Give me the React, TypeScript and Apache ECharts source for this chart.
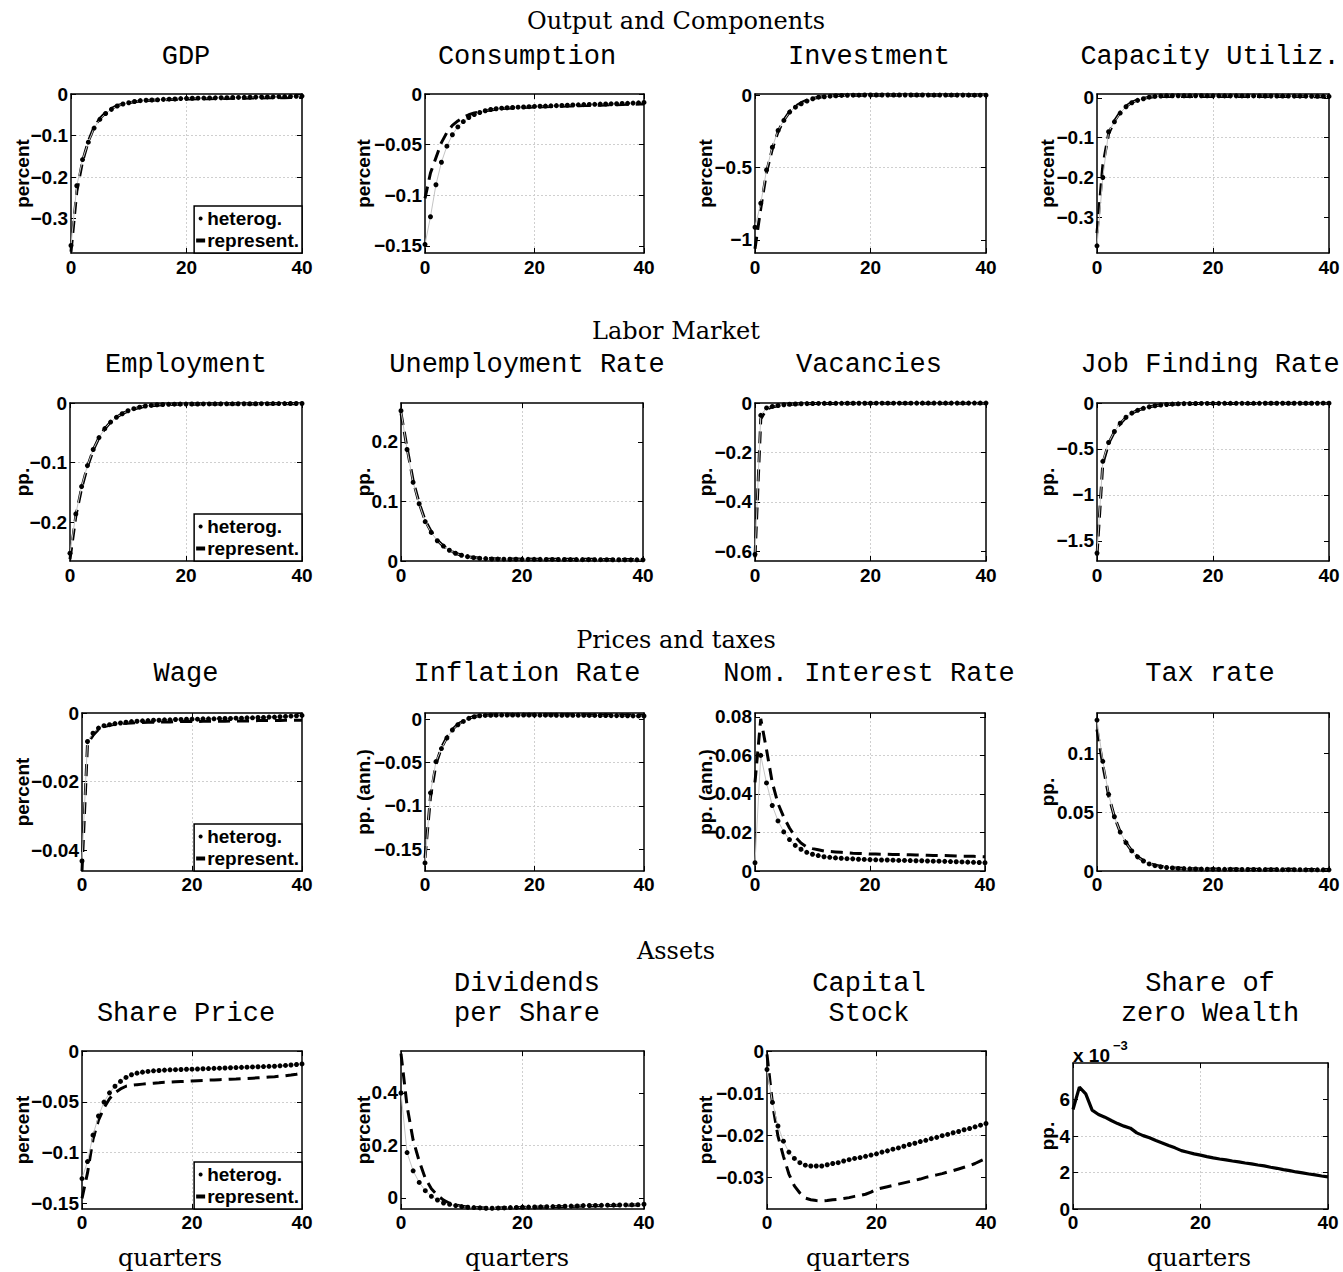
import React, { useEffect, useRef } from 'react';
import * as echarts from 'echarts';

const W = 1343;
const H = 1272;

const QUARTERS = Array.from({ length: 41 }, (_, i) => i);
const X_TICKS = [0, 20, 40];

// ---------- Output and Components ----------
const gdpHet = [-0.365, -0.221, -0.158, -0.116, -0.082, -0.061, -0.047, -0.037, -0.029, -0.024, -0.021, -0.018, -0.016, -0.015, -0.0145, -0.014, -0.013, -0.0125, -0.012, -0.011, -0.0105, -0.0103, -0.01, -0.0098, -0.0095, -0.0093, -0.009, -0.0088, -0.0085, -0.0083, -0.008, -0.0078, -0.0075, -0.0072, -0.007, -0.0068, -0.0065, -0.0062, -0.006, -0.0055, -0.005];
const gdpRep = [-0.38, -0.235, -0.162, -0.114, -0.08, -0.059, -0.045, -0.035, -0.028, -0.024, -0.021, -0.019, -0.017, -0.016, -0.015, -0.0145, -0.014, -0.0135, -0.013, -0.0125, -0.012, -0.0118, -0.0116, -0.0114, -0.0112, -0.011, -0.0108, -0.0106, -0.0104, -0.0102, -0.01, -0.0098, -0.0097, -0.0095, -0.0093, -0.0091, -0.009, -0.0088, -0.0086, -0.0084, -0.0082];
const consHet = [-0.1485, -0.1212, -0.0896, -0.0674, -0.0515, -0.0402, -0.0325, -0.0272, -0.0232, -0.0203, -0.0183, -0.0165, -0.0153, -0.0146, -0.014, -0.0136, -0.0133, -0.013, -0.0128, -0.0125, -0.0123, -0.0121, -0.0119, -0.0117, -0.0115, -0.0113, -0.0111, -0.0109, -0.0107, -0.0105, -0.0103, -0.0102, -0.01, -0.0099, -0.0097, -0.0096, -0.0094, -0.0092, -0.009, -0.0087, -0.0083];
const consRep = [-0.103, -0.078, -0.063, -0.048, -0.038, -0.031, -0.0266, -0.023, -0.0205, -0.0188, -0.0175, -0.0165, -0.0157, -0.015, -0.0145, -0.0141, -0.0138, -0.0135, -0.0133, -0.0131, -0.0129, -0.0127, -0.0125, -0.0124, -0.0122, -0.012, -0.0119, -0.0117, -0.0116, -0.0114, -0.0113, -0.0111, -0.011, -0.0108, -0.0107, -0.0105, -0.0104, -0.0102, -0.0101, -0.0099, -0.0098];
const invHet = [-0.912, -0.746, -0.515, -0.358, -0.242, -0.173, -0.115, -0.081, -0.058, -0.039, -0.023, -0.012, -0.009, -0.005, -0.002, 0.0, 0.001, 0.002, 0.002, 0.003, 0.003, 0.003, 0.003, 0.003, 0.003, 0.003, 0.003, 0.003, 0.003, 0.003, 0.0028, 0.0027, 0.0026, 0.0025, 0.0024, 0.0023, 0.0022, 0.0021, 0.002, 0.002, 0.0019];
const invRep = [-1.06, -0.78, -0.53, -0.37, -0.25, -0.17, -0.112, -0.075, -0.05, -0.033, -0.021, -0.013, -0.007, -0.003, -0.001, 0.0, 0.001, 0.0015, 0.002, 0.002, 0.002, 0.002, 0.002, 0.002, 0.002, 0.002, 0.002, 0.002, 0.002, 0.0019, 0.0019, 0.0018, 0.0018, 0.0017, 0.0017, 0.0016, 0.0016, 0.0016, 0.0015, 0.0015, 0.0015];
const capHet = [-0.372, -0.2, -0.085, -0.06, -0.038, -0.022, -0.012, -0.006, -0.002, 0.002, 0.004, 0.005, 0.0055, 0.0055, 0.0055, 0.0055, 0.0055, 0.0055, 0.0055, 0.0054, 0.0054, 0.0054, 0.0053, 0.0053, 0.0053, 0.0052, 0.0052, 0.0051, 0.0051, 0.005, 0.005, 0.0049, 0.0048, 0.0048, 0.0047, 0.0046, 0.0045, 0.0044, 0.0043, 0.0042, 0.004];
const capRep = [-0.34, -0.17, -0.09, -0.058, -0.036, -0.021, -0.011, -0.005, -0.001, 0.002, 0.003, 0.004, 0.004, 0.004, 0.004, 0.004, 0.004, 0.004, 0.004, 0.004, 0.004, 0.004, 0.004, 0.004, 0.004, 0.004, 0.0039, 0.0039, 0.0038, 0.0038, 0.0037, 0.0037, 0.0036, 0.0036, 0.0035, 0.0034, 0.0034, 0.0033, 0.0032, 0.0031, 0.003];

// ---------- Labor Market ----------
const empHet = [-0.252, -0.186, -0.14, -0.105, -0.078, -0.058, -0.043, -0.032, -0.024, -0.018, -0.013, -0.0095, -0.007, -0.005, -0.004, -0.003, -0.0025, -0.0022, -0.002, -0.0019, -0.0018, -0.0017, -0.0017, -0.0016, -0.0016, -0.0015, -0.0015, -0.0014, -0.0014, -0.0013, -0.0013, -0.0012, -0.0012, -0.0011, -0.0011, -0.001, -0.001, -0.001, -0.0009, -0.0009, -0.0008];
const empRep = [-0.262, -0.19, -0.143, -0.107, -0.079, -0.058, -0.043, -0.032, -0.024, -0.018, -0.0135, -0.01, -0.0075, -0.0057, -0.0045, -0.0036, -0.003, -0.0026, -0.0023, -0.0021, -0.002, -0.0019, -0.0019, -0.0018, -0.0018, -0.0018, -0.0017, -0.0017, -0.0017, -0.0016, -0.0016, -0.0016, -0.0015, -0.0015, -0.0015, -0.0014, -0.0014, -0.0014, -0.0013, -0.0013, -0.0013];
const unHet = [0.252, 0.187, 0.132, 0.096, 0.066, 0.048, 0.034, 0.025, 0.018, 0.013, 0.0096, 0.0073, 0.0056, 0.0045, 0.004, 0.0034, 0.0032, 0.0031, 0.003, 0.0029, 0.0028, 0.0028, 0.0027, 0.0027, 0.0026, 0.0026, 0.0025, 0.0025, 0.0024, 0.0024, 0.0023, 0.0023, 0.0022, 0.0022, 0.0022, 0.0021, 0.0021, 0.0021, 0.002, 0.002, 0.002];
const unRep = [0.248, 0.19, 0.135, 0.097, 0.068, 0.049, 0.035, 0.025, 0.018, 0.013, 0.0097, 0.0075, 0.006, 0.005, 0.0044, 0.004, 0.0037, 0.0035, 0.0034, 0.0033, 0.0032, 0.0032, 0.0031, 0.0031, 0.003, 0.003, 0.003, 0.0029, 0.0029, 0.0029, 0.0028, 0.0028, 0.0028, 0.0027, 0.0027, 0.0027, 0.0026, 0.0026, 0.0026, 0.0025, 0.0025];
const vacHet = [-0.613, -0.05, -0.02, -0.014, -0.01, -0.007, -0.005, -0.004, -0.003, -0.0025, -0.002, -0.0018, -0.0016, -0.0014, -0.0013, -0.0012, -0.0011, -0.001, -0.001, -0.0009, -0.0009, -0.0008, -0.0008, -0.0008, -0.0007, -0.0007, -0.0007, -0.0007, -0.0006, -0.0006, -0.0006, -0.0006, -0.0006, -0.0005, -0.0005, -0.0005, -0.0005, -0.0005, -0.0004, -0.0004, -0.0004];
const vacRep = [-0.625, -0.065, -0.025, -0.016, -0.011, -0.008, -0.006, -0.0045, -0.0035, -0.003, -0.0025, -0.0022, -0.002, -0.0018, -0.0016, -0.0015, -0.0014, -0.0013, -0.0012, -0.0012, -0.0011, -0.0011, -0.0011, -0.001, -0.001, -0.001, -0.001, -0.0009, -0.0009, -0.0009, -0.0009, -0.0008, -0.0008, -0.0008, -0.0008, -0.0007, -0.0007, -0.0007, -0.0007, -0.0006, -0.0006];
const jfHet = [-1.634, -0.635, -0.43, -0.31, -0.22, -0.155, -0.11, -0.08, -0.058, -0.042, -0.03, -0.022, -0.016, -0.012, -0.009, -0.007, -0.006, -0.0055, -0.005, -0.0045, -0.004, -0.004, -0.0038, -0.0037, -0.0036, -0.0035, -0.0034, -0.0033, -0.0032, -0.0031, -0.003, -0.003, -0.0029, -0.0028, -0.0027, -0.0026, -0.0025, -0.0024, -0.0023, -0.0022, -0.002];
const jfRep = [-1.66, -0.66, -0.44, -0.315, -0.225, -0.158, -0.112, -0.081, -0.059, -0.043, -0.031, -0.023, -0.017, -0.013, -0.01, -0.008, -0.007, -0.0063, -0.0058, -0.0054, -0.005, -0.0048, -0.0047, -0.0046, -0.0045, -0.0044, -0.0043, -0.0042, -0.0041, -0.004, -0.0039, -0.0038, -0.0037, -0.0036, -0.0035, -0.0034, -0.0033, -0.0032, -0.0031, -0.003, -0.0029];

// ---------- Prices and taxes ----------
const wageHet = [-0.0431, -0.0083, -0.0059, -0.0044, -0.0037, -0.0034, -0.0031, -0.0029, -0.0027, -0.0025, -0.0024, -0.0023, -0.0022, -0.0021, -0.0021, -0.002, -0.002, -0.0019, -0.0019, -0.0018, -0.0018, -0.0018, -0.0017, -0.0017, -0.0017, -0.0016, -0.0016, -0.0016, -0.0015, -0.0015, -0.0014, -0.0014, -0.0013, -0.0013, -0.0012, -0.0012, -0.0011, -0.001, -0.0009, -0.0008, -0.0007];
const wageRep = [-0.046, -0.009, -0.0065, -0.0048, -0.004, -0.0036, -0.0033, -0.0031, -0.003, -0.0029, -0.0028, -0.0028, -0.0027, -0.0027, -0.0026, -0.0026, -0.0026, -0.0025, -0.0025, -0.0025, -0.0025, -0.0025, -0.0024, -0.0024, -0.0024, -0.0024, -0.0024, -0.0023, -0.0023, -0.0023, -0.0023, -0.0023, -0.0022, -0.0022, -0.0022, -0.0022, -0.0022, -0.0021, -0.0021, -0.0021, -0.0021];
const infHet = [-0.1657, -0.085, -0.049, -0.034, -0.0218, -0.0126, -0.0065, -0.0027, 0.0008, 0.0027, 0.0038, 0.0042, 0.0044, 0.0045, 0.0046, 0.0046, 0.0046, 0.0046, 0.0046, 0.0046, 0.0046, 0.0045, 0.0045, 0.0045, 0.0044, 0.0044, 0.0044, 0.0043, 0.0043, 0.0043, 0.0042, 0.0042, 0.0041, 0.0041, 0.004, 0.004, 0.0039, 0.0038, 0.0037, 0.0036, 0.0035];
const infRep = [-0.16, -0.09, -0.052, -0.033, -0.021, -0.012, -0.006, -0.002, 0.001, 0.003, 0.004, 0.0045, 0.0048, 0.005, 0.005, 0.005, 0.005, 0.005, 0.005, 0.005, 0.005, 0.005, 0.005, 0.005, 0.005, 0.005, 0.0049, 0.0049, 0.0049, 0.0049, 0.0048, 0.0048, 0.0048, 0.0048, 0.0047, 0.0047, 0.0047, 0.0046, 0.0046, 0.0046, 0.0045];
const nomHet = [0.0043, 0.06, 0.0457, 0.034, 0.026, 0.0203, 0.0163, 0.0133, 0.0113, 0.0097, 0.0087, 0.008, 0.0074, 0.0071, 0.0068, 0.0066, 0.0064, 0.0063, 0.0061, 0.006, 0.0059, 0.0058, 0.0057, 0.0057, 0.0056, 0.0055, 0.0055, 0.0054, 0.0053, 0.0053, 0.0052, 0.0051, 0.0051, 0.005, 0.0049, 0.0048, 0.0047, 0.0046, 0.0045, 0.0044, 0.0043];
const nomRep = [0.046, 0.079, 0.063, 0.046, 0.035, 0.028, 0.0223, 0.0177, 0.0145, 0.0125, 0.0116, 0.011, 0.0104, 0.0101, 0.0099, 0.0097, 0.0094, 0.0092, 0.0091, 0.009, 0.0088, 0.0088, 0.0087, 0.0087, 0.0086, 0.0085, 0.0085, 0.0084, 0.0083, 0.0083, 0.0082, 0.0081, 0.0081, 0.008, 0.0079, 0.0078, 0.0077, 0.0077, 0.0076, 0.0075, 0.0074];
const taxHet = [0.128, 0.093, 0.065, 0.046, 0.033, 0.024, 0.017, 0.012, 0.0085, 0.006, 0.0045, 0.0035, 0.003, 0.0026, 0.0022, 0.002, 0.0018, 0.0017, 0.0016, 0.0015, 0.0015, 0.0014, 0.0014, 0.0014, 0.0013, 0.0013, 0.0013, 0.0013, 0.0012, 0.0012, 0.0012, 0.0012, 0.0011, 0.0011, 0.0011, 0.0011, 0.001, 0.001, 0.001, 0.001, 0.001];
const taxRep = [0.12, 0.09, 0.064, 0.046, 0.033, 0.024, 0.017, 0.012, 0.0088, 0.0065, 0.005, 0.004, 0.0033, 0.0028, 0.0025, 0.0022, 0.002, 0.0019, 0.0018, 0.0017, 0.0017, 0.0016, 0.0016, 0.0016, 0.0016, 0.0015, 0.0015, 0.0015, 0.0015, 0.0015, 0.0014, 0.0014, 0.0014, 0.0014, 0.0014, 0.0013, 0.0013, 0.0013, 0.0013, 0.0012, 0.0012];

// ---------- Assets ----------
const spHet = [-0.1256, -0.1088, -0.0828, -0.064, -0.0503, -0.0412, -0.0347, -0.0299, -0.026, -0.0234, -0.0218, -0.0208, -0.0201, -0.0195, -0.0192, -0.0188, -0.0185, -0.0184, -0.0182, -0.018, -0.0179, -0.0177, -0.0175, -0.0173, -0.0171, -0.0169, -0.0167, -0.0165, -0.0163, -0.0161, -0.0159, -0.0157, -0.0155, -0.0153, -0.0151, -0.015, -0.0146, -0.0142, -0.0138, -0.0133, -0.0127];
const spRep = [-0.145, -0.12, -0.087, -0.068, -0.056, -0.047, -0.041, -0.0373, -0.0347, -0.0338, -0.0331, -0.0326, -0.0321, -0.0317, -0.0313, -0.0308, -0.0306, -0.0303, -0.03, -0.0298, -0.0295, -0.0292, -0.029, -0.0287, -0.0285, -0.0282, -0.028, -0.0277, -0.0275, -0.0272, -0.027, -0.0267, -0.0264, -0.0261, -0.0257, -0.0253, -0.0248, -0.0243, -0.0236, -0.0228, -0.0218];
const divHet = [0.4, 0.173, 0.1035, 0.0593, 0.0278, 0.0063, -0.0076, -0.019, -0.024, -0.029, -0.0328, -0.0353, -0.0366, -0.0378, -0.039, -0.039, -0.0385, -0.038, -0.0366, -0.036, -0.0353, -0.0348, -0.0343, -0.0338, -0.0333, -0.0328, -0.0322, -0.0316, -0.031, -0.0302, -0.029, -0.0287, -0.0283, -0.0279, -0.0275, -0.0272, -0.0268, -0.0264, -0.026, -0.0255, -0.024];
const divRep = [0.55, 0.35, 0.22, 0.14, 0.075, 0.035, 0.01, -0.008, -0.02, -0.027, -0.031, -0.034, -0.036, -0.037, -0.038, -0.038, -0.038, -0.0375, -0.037, -0.0365, -0.036, -0.0355, -0.035, -0.0345, -0.034, -0.0335, -0.033, -0.0325, -0.032, -0.0315, -0.031, -0.0305, -0.03, -0.0295, -0.029, -0.0285, -0.028, -0.0275, -0.027, -0.0265, -0.026];
const kHet = [-0.0044, -0.0122, -0.0178, -0.0214, -0.024, -0.0255, -0.0265, -0.0271, -0.0273, -0.0273, -0.0273, -0.027, -0.0267, -0.0265, -0.0261, -0.0258, -0.0255, -0.0253, -0.025, -0.0247, -0.0244, -0.024, -0.0237, -0.0233, -0.023, -0.0226, -0.0222, -0.0219, -0.0215, -0.0212, -0.0208, -0.0205, -0.0201, -0.0198, -0.0194, -0.0191, -0.0187, -0.0184, -0.018, -0.0176, -0.0172];
const kRep = [-0.0008, -0.0125, -0.0202, -0.025, -0.0292, -0.032, -0.0337, -0.0349, -0.0353, -0.0355, -0.0356, -0.0355, -0.0353, -0.0352, -0.035, -0.0348, -0.0345, -0.0343, -0.034, -0.0335, -0.0328, -0.0325, -0.0322, -0.0319, -0.0316, -0.0313, -0.031, -0.0307, -0.0304, -0.03, -0.0297, -0.0294, -0.0291, -0.0287, -0.0284, -0.028, -0.0276, -0.0272, -0.0267, -0.0261, -0.0255];
const zeroWealth = [5.45, 6.68, 6.31, 5.42, 5.18, 5.03, 4.85, 4.68, 4.54, 4.43, 4.17, 4.02, 3.9, 3.75, 3.62, 3.48, 3.35, 3.2, 3.11, 3.02, 2.95, 2.87, 2.8, 2.74, 2.69, 2.63, 2.58, 2.52, 2.47, 2.41, 2.36, 2.29, 2.23, 2.16, 2.1, 2.03, 1.98, 1.92, 1.87, 1.81, 1.76];

// ---------- tick labels ----------
const T_GDP = [-0.3, -0.2, -0.1, 0];
const T_CONS = [-0.15, -0.1, -0.05, 0];
const T_INV = [-1, -0.5, 0];
const T_CAP = [-0.3, -0.2, -0.1, 0];
const T_EMP = [-0.2, -0.1, 0];
const T_UN = [0, 0.1, 0.2];
const T_VAC = [-0.6, -0.4, -0.2, 0];
const T_JF = [-1.5, -1, -0.5, 0];
const T_WAGE = [-0.04, -0.02, 0];
const T_INF = [-0.15, -0.1, -0.05, 0];
const T_NOM = [0, 0.02, 0.04, 0.06, 0.08];
const T_TAX = [0, 0.05, 0.1];
const T_SP = [-0.15, -0.1, -0.05, 0];
const T_DIV = [0, 0.2, 0.4];
const T_K = [-0.03, -0.02, -0.01, 0];
const T_ZW = [0, 2, 4, 6];

const SECTIONS = ['Output and Components', 'Labor Market', 'Prices and taxes', 'Assets'];
const LEG_HET = 'heterog.';
const LEG_REP = 'represent.';

const SANS = '"Liberation Sans", Arial, Helvetica, sans-serif';
const MONO = '"Liberation Mono", "Courier New", monospace';
const SERIF = '"DejaVu Serif", serif';

type Panel = {
  title: string[];
  ylab: string;
  het?: number[];
  rep?: number[];
  solid?: number[];
  yMin: number;
  yMax: number;
  ticks: number[];
  box: [number, number, number, number];
  legend?: boolean;
  row: number;
  col: number;
};

const PANELS: Panel[] = [
  { title: ['GDP'], ylab: 'percent', het: gdpHet, rep: gdpRep, yMin: -0.383, yMax: 0, ticks: T_GDP, box: [71, 94, 302, 253], legend: true, row: 0, col: 0 },
  { title: ['Consumption'], ylab: 'percent', het: consHet, rep: consRep, yMin: -0.157, yMax: 0, ticks: T_CONS, box: [425, 94, 644, 253], row: 0, col: 1 },
  { title: ['Investment'], ylab: 'percent', het: invHet, rep: invRep, yMin: -1.09, yMax: 0.01, ticks: T_INV, box: [755, 94, 986, 253], row: 0, col: 2 },
  { title: ['Capacity Utiliz.'], ylab: 'percent', het: capHet, rep: capRep, yMin: -0.39, yMax: 0.01, ticks: T_CAP, box: [1097, 94, 1329, 253], row: 0, col: 3 },
  { title: ['Employment'], ylab: 'pp.', het: empHet, rep: empRep, yMin: -0.265, yMax: 0, ticks: T_EMP, box: [70, 403, 302, 561], legend: true, row: 1, col: 0 },
  { title: ['Unemployment Rate'], ylab: 'pp.', het: unHet, rep: unRep, yMin: 0, yMax: 0.265, ticks: T_UN, box: [401, 403, 643, 561], row: 1, col: 1 },
  { title: ['Vacancies'], ylab: 'pp.', het: vacHet, rep: vacRep, yMin: -0.64, yMax: 0, ticks: T_VAC, box: [755, 403, 986, 561], row: 1, col: 2 },
  { title: ['Job Finding Rate'], ylab: 'pp.', het: jfHet, rep: jfRep, yMin: -1.72, yMax: 0, ticks: T_JF, box: [1097, 403, 1329, 561], row: 1, col: 3 },
  { title: ['Wage'], ylab: 'percent', het: wageHet, rep: wageRep, yMin: -0.046, yMax: 0, ticks: T_WAGE, box: [82, 713, 302, 871], legend: true, row: 2, col: 0 },
  { title: ['Inflation Rate'], ylab: 'pp. (ann.)', het: infHet, rep: infRep, yMin: -0.175, yMax: 0.007, ticks: T_INF, box: [425, 713, 644, 871], row: 2, col: 1 },
  { title: ['Nom. Interest Rate'], ylab: 'pp. (ann.)', het: nomHet, rep: nomRep, yMin: 0, yMax: 0.082, ticks: T_NOM, box: [755, 713, 985, 871], row: 2, col: 2 },
  { title: ['Tax rate'], ylab: 'pp.', het: taxHet, rep: taxRep, yMin: 0, yMax: 0.134, ticks: T_TAX, box: [1097, 713, 1329, 871], row: 2, col: 3 },
  { title: ['Share Price'], ylab: 'percent', het: spHet, rep: spRep, yMin: -0.1555, yMax: 0, ticks: T_SP, box: [82, 1051, 302, 1209], legend: true, row: 3, col: 0 },
  { title: ['Dividends', 'per Share'], ylab: 'percent', het: divHet, rep: divRep, yMin: -0.042, yMax: 0.56, ticks: T_DIV, box: [401, 1051, 644, 1209], row: 3, col: 1 },
  { title: ['Capital', 'Stock'], ylab: 'percent', het: kHet, rep: kRep, yMin: -0.0375, yMax: 0, ticks: T_K, box: [767, 1051, 986, 1209], row: 3, col: 2 },
  { title: ['Share of', 'zero Wealth'], ylab: 'pp.', solid: zeroWealth, yMin: 0, yMax: 8, ticks: T_ZW, box: [1073, 1063, 1328, 1209], row: 3, col: 3 },
];

const COL_TITLE_X = [186, 527, 869, 1210];
const ROW_TITLE_Y = [57, 365, 674, 1014];
const SECTION_Y = [21, 331, 640, 951];
const YLAB_X = [22, 363, 705, 1047];
const X_LABEL_MARGIN = [5, 5, 4, 4];
const QUARTERS_X = [170, 517, 858, 1199];
const QUARTERS_Y = 1258;

const fmt = (v: number) => String(parseFloat(Number(v).toFixed(6))).replace('-', '\u2212');

const pairs = (arr: number[]) => arr.map((v, i) => [QUARTERS[i], v]);

function txt(x: number, y: number, text: string, font: any, rotation = 0): any {
  return {
    type: 'text',
    x,
    y,
    rotation,
    silent: true,
    style: {
      text,
      fill: '#000',
      align: 'center',
      verticalAlign: 'middle',
      textAlign: 'center',
      textVerticalAlign: 'middle',
      ...font,
    },
  };
}

function buildOption(): any {
  const grid: any[] = [];
  const xAxis: any[] = [];
  const yAxis: any[] = [];
  const series: any[] = [];
  const legend: any[] = [];
  const graphic: any[] = [];
  const n = PANELS.length;

  const labelStyle = { fontFamily: SANS, fontWeight: 'bold', fontSize: 19, color: '#000' };
  const gridLine = { show: true, showMinLine: false, showMaxLine: false, lineStyle: { color: '#cfcfcf', type: [2, 2], width: 1 } };
  const boxLine = { show: true, onZero: false, lineStyle: { color: '#000', width: 1.5 } };
  const tick = (vals?: number[]) => ({
    show: true, inside: true, length: 5, lineStyle: { color: '#000', width: 1 },
    ...(vals ? { customValues: vals } : {}),
  });

  PANELS.forEach((p, i) => {
    const [l, t, r, b] = p.box;
    grid.push({
      left: l, top: t, width: r - l, height: b - t,
      show: true, borderWidth: 0, backgroundColor: '#fff',
    });
    xAxis[i] = {
      gridIndex: i, type: 'value', min: 0, max: 40, interval: 20,
      axisLine: boxLine,
      axisTick: tick(),
      axisLabel: { ...labelStyle, margin: X_LABEL_MARGIN[p.row], formatter: fmt },
      splitLine: gridLine,
    };
    xAxis[n + i] = {
      gridIndex: i, type: 'value', position: 'top', min: 0, max: 40, interval: 20,
      axisLine: boxLine,
      axisTick: tick(),
      axisLabel: { show: false },
      splitLine: { show: false },
    };
    yAxis[i] = {
      gridIndex: i, type: 'value', min: p.yMin, max: p.yMax,
      axisLine: boxLine,
      axisTick: tick(p.ticks),
      axisLabel: { ...labelStyle, margin: 3, customValues: p.ticks, formatter: fmt },
      splitLine: gridLine,
    };
    yAxis[n + i] = {
      gridIndex: i, type: 'value', position: 'right', min: p.yMin, max: p.yMax,
      axisLine: boxLine,
      axisTick: tick(p.ticks),
      axisLabel: { show: false, customValues: p.ticks },
      splitLine: { show: false },
    };

    if (p.rep) {
      series.push({
        type: 'line', name: LEG_REP, xAxisIndex: i, yAxisIndex: i,
        data: pairs(p.rep), symbol: 'none', silent: true, z: 2,
        itemStyle: { color: '#000' },
        lineStyle: { color: '#000', width: 3, type: [12, 7] },
      });
    }
    if (p.het) {
      series.push({
        type: 'line', name: LEG_HET, xAxisIndex: i, yAxisIndex: i,
        data: pairs(p.het), symbol: 'circle', symbolSize: 5, showAllSymbol: true, silent: true, z: 3,
        itemStyle: { color: '#000', borderWidth: 0 },
        lineStyle: { color: '#c4c4c4', width: 1 },
      });
    }
    if (p.solid) {
      series.push({
        type: 'line', name: 'zero wealth', xAxisIndex: i, yAxisIndex: i,
        data: pairs(p.solid), symbol: 'none', silent: true, z: 3,
        itemStyle: { color: '#000' },
        lineStyle: { color: '#000', width: 3.2 },
      });
    }

    if (p.legend) {
      legend.push({
        show: true, orient: 'vertical', right: W - r, bottom: H - b,
        data: [{ name: LEG_HET, icon: 'circle' }, { name: LEG_REP, icon: 'rect' }],
        itemWidth: 9, itemHeight: 4, itemGap: 3,
        padding: [3, 3, 3, 2],
        borderColor: '#000', borderWidth: 1.5, backgroundColor: '#fff',
        selectedMode: false,
        textStyle: { ...labelStyle, padding: [0, 0, 0, -3] },
      });
    }

    // panel titles (monospace)
    const tx = COL_TITLE_X[p.col];
    const ty = ROW_TITLE_Y[p.row];
    const monoFont = { fontFamily: MONO, fontSize: 27, fontWeight: 'normal' };
    if (p.title.length === 1) {
      graphic.push(txt(tx, ty, p.title[0], monoFont));
    } else {
      graphic.push(txt(tx, ty - 30, p.title[0], monoFont));
      graphic.push(txt(tx, ty, p.title[1], monoFont));
    }
    // y label
    graphic.push(txt(YLAB_X[p.col], (t + b) / 2, p.ylab, { fontFamily: SANS, fontSize: 19, fontWeight: 'bold' }, Math.PI / 2));
  });

  SECTIONS.forEach((s, k) => {
    graphic.push(txt(676, SECTION_Y[k], s, { fontFamily: SERIF, fontSize: 24, fontWeight: 'normal' }));
  });
  QUARTERS_X.forEach((x) => {
    graphic.push(txt(x, QUARTERS_Y, 'quarters', { fontFamily: SERIF, fontSize: 24, fontWeight: 'normal' }));
  });
  // exponent label of the last panel
  graphic.push({
    type: 'text', x: 1073, y: 1055, silent: true,
    style: { text: 'x 10', fill: '#000', fontFamily: SANS, fontSize: 19, fontWeight: 'bold', align: 'left', verticalAlign: 'middle', textAlign: 'left', textVerticalAlign: 'middle' },
  });
  graphic.push({
    type: 'text', x: 1113, y: 1045, silent: true,
    style: { text: '\u22123', fill: '#000', fontFamily: SANS, fontSize: 13, fontWeight: 'bold', align: 'left', verticalAlign: 'middle', textAlign: 'left', textVerticalAlign: 'middle' },
  });

  return {
    animation: false,
    backgroundColor: '#fff',
    grid,
    xAxis,
    yAxis,
    series,
    legend,
    graphic,
  };
}

export default function App() {
  const ref = useRef<HTMLDivElement>(null);
  useEffect(() => {
    if (!ref.current) return;
    const chart = echarts.init(ref.current, null, { renderer: 'svg' });
    chart.setOption(buildOption());
    return () => chart.dispose();
  }, []);
  return (
    <div
      ref={ref}
      style={{ position: 'absolute', left: 0, top: 0, width: W, height: H, background: '#fff' }}
    />
  );
}
